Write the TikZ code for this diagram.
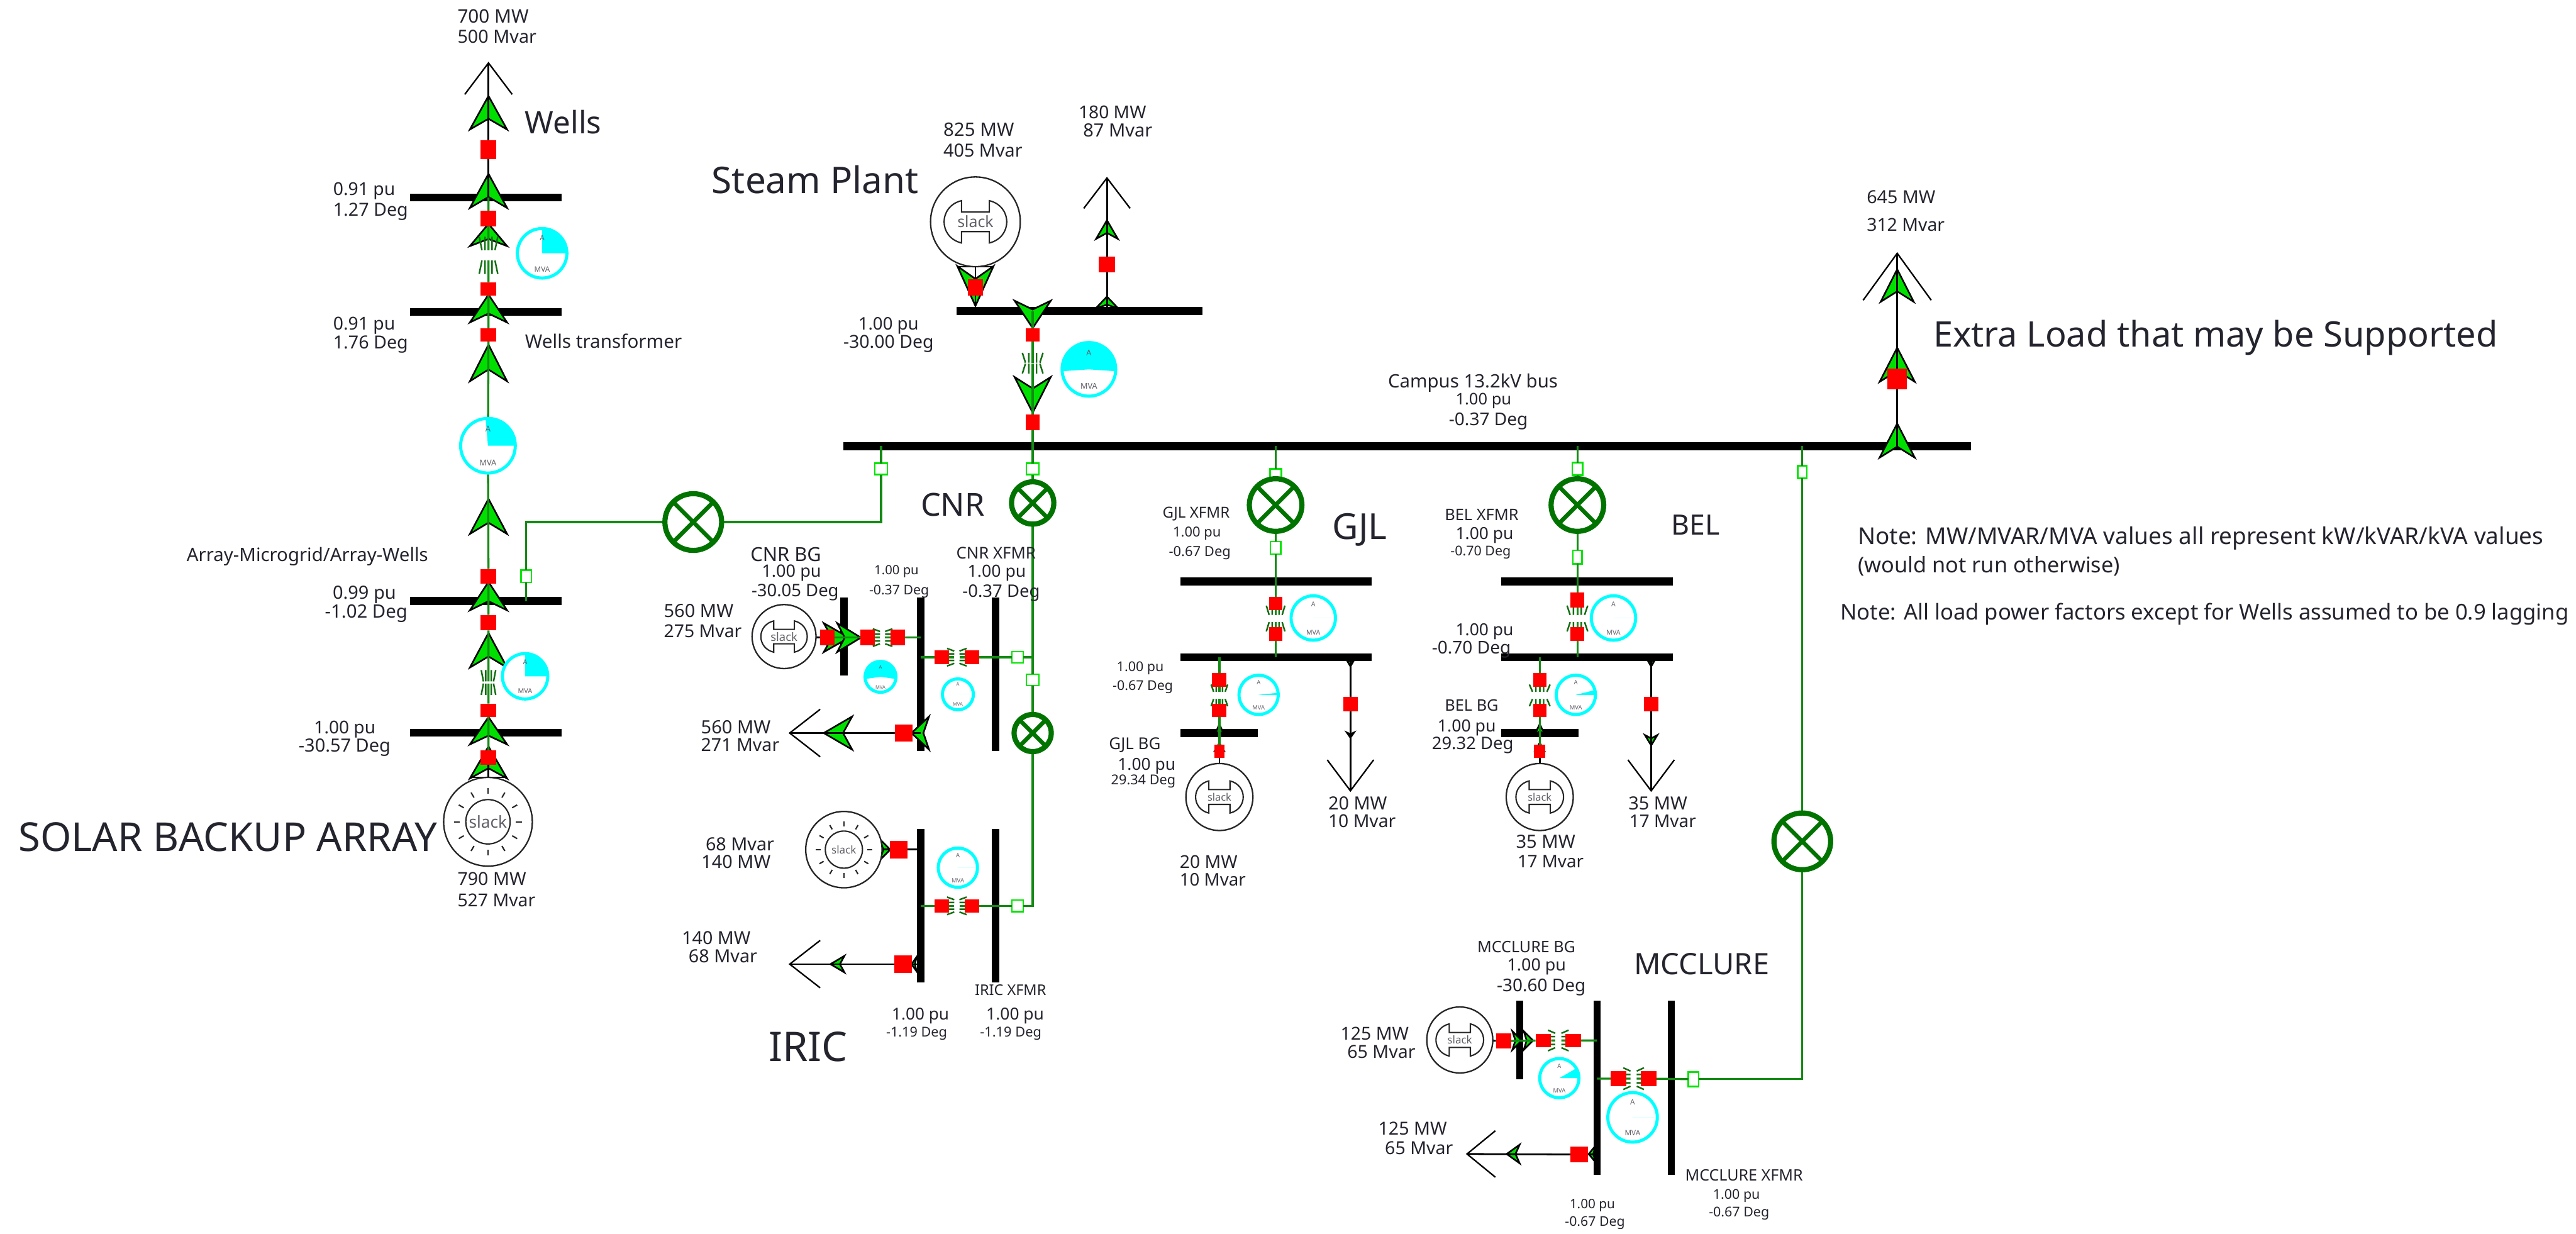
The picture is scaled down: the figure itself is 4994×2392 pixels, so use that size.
\documentclass[tikz,border=0pt]{standalone}
\usepackage{fontspec}
\usepackage{graphicx}
\setmainfont{Noto Sans}
\usetikzlibrary{backgrounds}
\pgfdeclarelayer{buslayer}
\pgfdeclarelayer{arrowlayer}
\pgfdeclarelayer{toplayer}
\pgfsetlayers{buslayer,arrowlayer,main,toplayer}
\definecolor{wiregreen}{HTML}{148A14}
\definecolor{xfgreen}{HTML}{007300}
\definecolor{flowgreen}{HTML}{00E000}
\definecolor{piecyan}{HTML}{00FFFF}
\definecolor{txt}{HTML}{24242E}
\definecolor{slackgray}{HTML}{606068}
\tikzset{
  lab/.style={anchor=west,inner sep=0pt,outer sep=0pt,text=txt},
  wire/.style={draw=wiregreen,line width=2pt},
  bwire/.style={draw=black,line width=1.7pt},
  busst/.style={rectangle,fill=black,inner sep=0pt,outer sep=0pt},
  brkst/.style={rectangle,fill=red,inner sep=0pt,outer sep=0pt},
  sqst/.style={rectangle,draw=green!90!black,fill=white,line width=1.5pt,inner sep=0pt,outer sep=0pt},
  flowst/.style={fill=flowgreen,draw=black,line width=1.6pt,line join=miter},
  coilst/.style={draw=wiregreen!80!black,line width=1.5pt},
  loadst/.style={draw=black,line width=1.4pt},
  xfst/.style={circle,draw=xfgreen,fill=white,line width=5pt,inner sep=0pt,outer sep=0pt},
  xfcross/.style={draw=xfgreen,line width=4pt},
  piest/.style={circle,draw=piecyan,fill=white,line width=3pt,inner sep=0pt,outer sep=0pt},
  genst/.style={circle,draw=black!85,fill=white,line width=1.4pt,inner sep=0pt,outer sep=0pt},
  genin/.style={draw=black!85,line width=1.3pt},
  tinyt/.style={inner sep=0pt,outer sep=0pt,text=slackgray},
}
\newcommand\mylb[5]{\node[lab] (#1) at (#2,#4) {\resizebox{\dimexpr\number\numexpr#3-#2\relax pt/2\relax}{!}{\vphantom{A}\smash{#5}}};}
\newcommand\hbus[4]{\begin{pgfonlayer}{buslayer}\node[busst,minimum width={(#3-#2)*0.5pt},minimum height=7.5pt] (#1) at ({(#2+#3)/2},#4) {};\end{pgfonlayer}}
\newcommand\vbus[4]{\begin{pgfonlayer}{buslayer}\node[busst,minimum height={(#4-#3)*0.5pt},minimum width=7pt] (#1) at (#2,{(#3+#4)/2}) {};\end{pgfonlayer}}
\newcommand\mybrk[5]{\begin{pgfonlayer}{toplayer}\node[brkst,minimum width={#4*0.5pt},minimum height={#5*0.5pt}] (#1) at (#2,#3) {};\end{pgfonlayer}}
\newcommand\mysq[5]{\node[sqst,minimum width={#4*0.5pt},minimum height={#5*0.5pt}] (#1) at (#2,#3) {};}
\newcommand\myflow[5]{\begin{pgfonlayer}{arrowlayer}\filldraw[flowst,shift={(#1,#2)},rotate=#3] (0,0) -- (#5,#4) -- (0,.68*#4) -- (-#5,#4) -- cycle;\end{pgfonlayer}}
\newcommand\myload[6]{\begin{scope}[shift={(#2,#3)},rotate=#4]\coordinate (#1) at (0,0);\draw[loadst] (-#6,#5) -- (0,0) -- (#6,#5);\end{scope}}
\newcommand\mycoil[7]{\begin{scope}[shift={(#2,#3)},rotate=#4]
  \coordinate (#1-a) at (0,-#5/2);\coordinate (#1-b) at (0,#5/2);
  \draw[coilst] (-.38*#7,-#5/2) -- ++(0,-#6) (.38*#7,-#5/2) -- ++(0,-#6) (-.7*#7,-#5/2) -- (-#7,-#5/2-#6) (.7*#7,-#5/2) -- (#7,-#5/2-#6)
    (-.38*#7,#5/2) -- ++(0,#6) (.38*#7,#5/2) -- ++(0,#6) (-.7*#7,#5/2) -- (-#7,#5/2+#6) (.7*#7,#5/2) -- (#7,#5/2+#6);
\end{scope}}
\newcommand\myxf[4]{\begin{pgfonlayer}{toplayer}\node[xfst,minimum size={(2*#4-10)*0.5pt}] (#1) at (#2,#3) {};
  \draw[xfcross] (#1.45) -- (#1.225) (#1.135) -- (#1.-45);\end{pgfonlayer}}
\newcommand\mypie[6]{\begin{pgfonlayer}{toplayer}\node[piest,minimum size={(2*#4-6)*0.5pt}] (#1) at (#2,#3) {};
  \fill[piecyan] (#1.center) -- +(#5:#4-2) arc[start angle=#5,end angle=#6,radius=#4-2] -- cycle;
  \pgfmathsetmacro\piefs{#4*0.5*0.28}
  \node[tinyt,font=\fontsize{\piefs pt}{\piefs pt}\selectfont] (#1-a) at (#2,#3-.58*#4) {A};
  \node[tinyt,font=\fontsize{\piefs pt}{\piefs pt}\selectfont] (#1-m) at (#2,#3+.6*#4) {MVA};
\end{pgfonlayer}}
\newcommand\mygen[6]{\begin{pgfonlayer}{toplayer}\node[genst,minimum size={#4}] (#1) at (#2,#3) {};
  \begin{scope}[shift={(#2,#3)},scale=#5]
  \draw[genin] (-27,-41) .. controls (-72,-30) and (-72,30) .. (-27,41) -- (-27,19) -- (27,19) -- (27,41) .. controls (72,30) and (72,-30) .. (27,-41) -- (27,-19) -- (-27,-19) -- cycle;
  \end{scope}
  \node[tinyt] (#1-t) at (#2,#3) {\resizebox{#6pt}{!}{\vphantom{k}slack}};\end{pgfonlayer}}
\newcommand\mysolar[6]{\begin{pgfonlayer}{toplayer}\node[genst,minimum size={#4}] (#1) at (#2,#3) {};
  \begin{scope}[shift={(#2,#3)}]
  \draw[genin] (0,0) circle[radius=#5];
  \foreach \aa in {0,30,...,330} {\draw[genin] (\aa:1.26*#5) -- (\aa:1.52*#5);}
  \end{scope}
  \node[tinyt] (#1-t) at (#2,#3) {\resizebox{#6pt}{!}{\vphantom{k}slack}};\end{pgfonlayer}}
\begin{document}
\begin{tikzpicture}[x=0.5pt,y=-0.5pt]
\useasboundingbox (0,0) rectangle (4994,2392);
% ---------- buses
\hbus{wb1}{795}{1089}{383}
\hbus{wb2}{795}{1089}{605}
\hbus{wb3}{795}{1089}{1165}
\hbus{wb4}{795}{1089}{1420}
\hbus{stb}{1855}{2331}{603}
\hbus{cam}{1635}{3821}{865}
\vbus{cb1}{1636}{1158}{1309}
\vbus{cb2}{1785}{1158}{1456}
\vbus{cb3}{1930}{1158}{1456}
\vbus{ib2}{1785}{1607}{1905}
\vbus{ib3}{1930}{1607}{1905}
\hbus{gba}{2289}{2659}{1127}
\hbus{gbb}{2289}{2659}{1274}
\hbus{gbc}{2289}{2438}{1421}
\hbus{bba}{2910}{3243}{1127}
\hbus{bbb}{2910}{3243}{1274}
\hbus{bbc}{2910}{3060}{1421}
\vbus{mb1}{2946}{1940}{2092}
\vbus{mb2}{3096}{1940}{2278}
\vbus{mb3}{3240}{1940}{2278}
% ---------- breakers
\mybrk{wr1}{947}{290}{30}{36}
\mybrk{wr2}{947}{424}{30}{30}
\mybrk{wr3}{947}{560}{30}{26}
\mybrk{wr4}{947}{649}{30}{25}
\mybrk{wr5}{947}{1117}{30}{28}
\mybrk{wr6}{947}{1207}{30}{30}
\mybrk{wr7}{947}{1377}{30}{26}
\mybrk{wr8}{947}{1468}{30}{28}
\mybrk{sr1}{1891}{557}{30}{32}
\mybrk{sr2}{2002}{649}{26}{26}
\mybrk{sr3}{2002}{819}{26}{30}
\mybrk{lr1}{2146}{513}{32}{30}
\mybrk{xr1}{3678}{735}{38}{40}
\mybrk{cr1}{1604}{1236}{28}{30}
\mybrk{cr2}{1682}{1236}{28}{30}
\mybrk{cr3}{1740}{1236}{28}{30}
\mybrk{cr4}{1826}{1274}{28}{26}
\mybrk{cr5}{1884}{1274}{28}{26}
\mybrk{cr6}{1752}{1421}{34}{34}
\mybrk{ir1}{1742}{1647}{34}{34}
\mybrk{ir2}{1826}{1756}{28}{26}
\mybrk{ir3}{1884}{1756}{28}{26}
\mybrk{ir4}{1751}{1869}{34}{34}
\mybrk{gr1}{2473}{1170}{26}{26}
\mybrk{gr2}{2473}{1229}{26}{26}
\mybrk{gr3}{2364}{1318}{28}{26}
\mybrk{gr4}{2364}{1377}{28}{26}
\mybrk{gr5}{2364}{1456}{20}{26}
\mybrk{gr6}{2618}{1365}{28}{28}
\mybrk{br1}{3058}{1163}{26}{30}
\mybrk{br2}{3058}{1229}{26}{26}
\mybrk{br3}{2985}{1318}{26}{26}
\mybrk{br4}{2985}{1377}{26}{26}
\mybrk{br5}{2985}{1456}{22}{26}
\mybrk{br6}{3201}{1365}{28}{28}
\mybrk{mr1}{2915}{2018}{30}{30}
\mybrk{mr2}{2992}{2017}{30}{26}
\mybrk{mr3}{3050}{2017}{30}{26}
\mybrk{mr4}{3138}{2091}{30}{30}
\mybrk{mr5}{3196}{2091}{30}{30}
\mybrk{mr6}{3062}{2238}{34}{30}
% ---------- open squares
\mysq{wsq}{1020}{1117}{20}{24}
\mysq{csq1}{1708}{909}{24}{22}
\mysq{csq2}{2002}{909}{24}{22}
\mysq{csq3}{2002}{1318}{24}{22}
\mysq{csq4}{1973}{1274}{22}{22}
\mysq{isq}{1973}{1756}{22}{22}
\mysq{gsq1}{2473}{919}{22}{20}
\mysq{gsq2}{2473}{1062}{20}{24}
\mysq{bsq1}{3058}{909}{20}{24}
\mysq{bsq2}{3058}{1080}{18}{26}
\mysq{msq1}{3494}{915}{18}{24}
\mysq{msq2}{3283}{2092}{20}{28}
% ---------- transformer ovals, pies, generators
\myxf{xa}{1344}{1012}{60}
\myxf{xc}{2002}{975}{46}
\myxf{xi}{2002}{1421}{41}
\myxf{xg}{2473}{979}{56}
\myxf{xb}{3058}{979}{56}
\myxf{xm}{3494}{1631}{60}
\mypie{pw}{1051}{491}{51}{0}{-90}
\mypie{pb}{946}{864}{56}{0}{-95}
\mypie{pa}{1018}{1311}{47}{0}{-90}
\mypie{ps}{2111}{716}{55}{4}{-184}
\mypie{pc1}{1707}{1312}{33}{8}{-188}
\mypie{pc2}{1857}{1346}{33}{0}{0}
\mypie{pi}{1857}{1682}{41}{0}{0}
\mypie{pg1}{2546}{1198}{46}{0}{0}
\mypie{pg2}{2440}{1347}{41}{0}{-6}
\mypie{pb1}{3128}{1198}{46}{0}{0}
\mypie{pb2}{3055}{1347}{41}{0}{-14}
\mypie{pm1}{3023}{2090}{41}{0}{-30}
\mypie{pm2}{3165}{2166}{51}{0}{0}
\mygen{gs}{1891}{430}{87}{1}{35}
\mygen{gc}{1520}{1234}{62}{.74}{26}
\mygen{gg}{2364}{1545}{65}{.76}{23}
\mygen{gb}{2985}{1545}{65}{.76}{23}
\mygen{gm}{2830}{2016}{64}{.76}{24}
\mysolar{ga}{946}{1593}{86}{43}{37}
\mysolar{gi}{1636}{1647}{74}{36}{24}
% ---------- loads
\myload{lw}{947}{122}{0}{61}{46}
\myload{ls}{2146}{345}{0}{59}{45}
\myload{lx}{3678}{491}{0}{91}{66}
\myload{lc}{1531}{1421}{90}{59}{46}
\myload{li}{1531}{1869}{90}{59}{46}
\myload{lg}{2618}{1533}{180}{60}{45}
\myload{lb}{3201}{1533}{180}{60}{45}
\myload{lm}{2844}{2237}{90}{55}{45}
% ---------- coils
\mycoil{cw}{947}{495}{0}{20}{26}{18}
\mycoil{ca}{947}{1323}{0}{4}{22}{14}
\mycoil{cs}{2002}{704}{0}{2}{19}{20}
\mycoil{cc1}{1711}{1236}{90}{10}{14}{17}
\mycoil{cc2}{1855}{1274}{90}{10}{14}{17}
\mycoil{ci}{1855}{1756}{90}{10}{14}{17}
\mycoil{cg1}{2473}{1199}{0}{14}{18}{18}
\mycoil{cg2}{2364}{1348}{0}{14}{14}{16}
\mycoil{cb1}{3058}{1199}{0}{14}{18}{20}
\mycoil{cb2}{2985}{1348}{0}{14}{14}{20}
\mycoil{cm1}{3021}{2017}{90}{12}{14}{20}
\mycoil{cm2}{3167}{2091}{90}{12}{14}{21}
% ---------- connectors
\draw[bwire] (lw) -- (wr1) -- (wr1 |- wb1);
\draw[wire] (wr2 |- wb1) -- (wr2) -- (cw-a) (cw-b) -- (wr3) -- (wr3 |- wb2) -- (wr4) -- (pb) -- (wr5) -- (wr5 |- wb3) -- (wr6) -- (ca-a) (ca-b) -- (wr7) -- (wr7 |- wb4) -- (wr8);
\draw[bwire] (wr8) -- (ga);
\draw[bwire] ([xshift=-16pt]ga.north) -- ([xshift=16pt]ga.north);
\draw[wire] (wsq |- wb3) -- (wsq) |- (xa);
\draw[wire] (xa) -| (csq1) -- (csq1 |- cam);
\draw[bwire] (gs) -- (sr1) -- (sr1 |- stb);
\draw[bwire] ([xshift=-17pt]gs.south) -- ([xshift=17pt]gs.south);
\draw[bwire] (ls) -- (lr1) -- (lr1 |- stb);
\draw[wire] (sr2 |- stb) -- (sr2) -- (cs-a) (cs-b) -- (sr3) -- (sr3 |- cam) -- (csq2) -- (xc) -- (csq3) -- (xi) |- (isq);
\draw[bwire] (lx) -- (xr1) -- (xr1 |- cam);
\draw[wire] (csq3 |- csq4) -- (csq4) -- (cr5) -- (cc2-b) (cc2-a) -- (cr4) -- (cr4 -| cb2);
\draw[wire] (cr3 -| cb2) -- (cr3) -- (cc1-b) (cc1-a) -- (cr2) -- (cr1);
\draw[bwire] (cr1) -- (gc);
\draw[bwire] (lc) -- (cr6) -- (cr6 -| cb2);
\draw[bwire] (gi) -- (ir1) -- (ir1 -| ib2);
\draw[wire] (isq) -- (ir3) -- (ci-b) (ci-a) -- (ir2) -- (ir2 -| ib2);
\draw[bwire] (li) -- (ir4) -- (ir4 -| ib2);
\draw[wire] (gsq1 |- cam) -- (gsq1) -- (xg) -- (gsq2) -- (gsq2 |- gba) -- (gr1) -- (cg1-a) (cg1-b) -- (gr2) -- (gr2 |- gbb);
\draw[wire] (gr3 |- gbb) -- (gr3) -- (cg2-a) (cg2-b) -- (gr4) -- (gr4 |- gbc) -- (gr5);
\draw[bwire] (gr5) -- (gg);
\draw[bwire] (gr6 |- gbb) -- (gr6) -- (lg);
\draw[wire] (bsq1 |- cam) -- (bsq1) -- (xb) -- (bsq2) -- (bsq2 |- bba) -- (br1) -- (cb1-a) (cb1-b) -- (br2) -- (br2 |- bbb);
\draw[wire] (br3 |- bbb) -- (br3) -- (cb2-a) (cb2-b) -- (br4) -- (br4 |- bbc) -- (br5);
\draw[bwire] (br5) -- (gb);
\draw[bwire] (br6 |- bbb) -- (br6) -- (lb);
\draw[wire] (msq1 |- cam) -- (msq1) -- (xm) |- (msq2);
\draw[wire] (msq2) -- (mr5) -- (cm2-b) (cm2-a) -- (mr4) -- (mr4 -| mb2);
\draw[wire] (mr3 -| mb2) -- (mr3) -- (cm1-b) (cm1-a) -- (mr2) -- (mr1);
\draw[bwire] (mr1) -- (gm);
\draw[bwire] (lm) -- (mr6) -- (mr6 -| mb2);
% ---------- flow arrows
\myflow{947}{186}{0}{65}{36}
\myflow{947}{337}{0}{66}{36}
\myflow{947}{434}{0}{43}{36}
\myflow{947}{571}{0}{54}{36}
\myflow{947}{668}{0}{71}{36}
\myflow{947}{967}{0}{68}{36}
\myflow{947}{1128}{0}{55}{36}
\myflow{947}{1227}{0}{67}{36}
\myflow{947}{1390}{0}{53}{36}
\myflow{947}{1447}{0}{62}{36}
\myflow{1891}{593}{180}{77}{35}
\myflow{2002}{636}{180}{53}{35}
\myflow{2002}{800}{180}{69}{35}
\myflow{2146}{427}{0}{36}{21}
\myflow{2146}{575}{0}{23}{22}
\myflow{3678}{522}{0}{63}{32}
\myflow{3678}{674}{0}{66}{34}
\myflow{3678}{821}{0}{66}{34}
\myflow{1646}{1236}{-90}{49}{28}
\myflow{1669}{1236}{-90}{46}{28}
\myflow{1597}{1421}{90}{55}{32}
\myflow{1767}{1421}{90}{34}{32}
\myflow{1726}{1647}{-90}{20}{20}
\myflow{1610}{1869}{90}{27}{16}
\myflow{1767}{1869}{90}{10}{14}
\myflow{2972}{2017}{-90}{18}{18}
\myflow{2950}{2017}{-90}{18}{18}
\myflow{2921}{2237}{90}{25}{18}
\myflow{3080}{2237}{90}{13}{16}
\myflow{2364}{1404}{0}{20}{9}
\myflow{2364}{1440}{0}{14}{8}
\myflow{2618}{1292}{180}{14}{8}
\myflow{2618}{1430}{180}{10}{7}
\myflow{2985}{1404}{0}{20}{10}
\myflow{2985}{1440}{0}{14}{8}
\myflow{3201}{1292}{180}{14}{8}
\myflow{3201}{1445}{180}{20}{12}
% ---------- texts
\mylb{t01}{887}{1025}{31}{700 MW}
\mylb{t02}{887}{1040}{71}{500 Mvar}
\mylb{t03}{1018}{1166}{238}{Wells}
\mylb{t04}{646}{766}{366}{0.91 pu}
\mylb{t05}{646}{791}{406}{1.27 Deg}
\mylb{t06}{646}{766}{627}{0.91 pu}
\mylb{t07}{646}{791}{663}{1.76 Deg}
\mylb{t08}{1018}{1322}{662}{Wells transformer}
\mylb{t09}{362}{830}{1075}{Array-Microgrid/Array-Wells}
\mylb{t10}{645}{768}{1149}{0.99 pu}
\mylb{t11}{630}{790}{1185}{-1.02 Deg}
\mylb{t12}{609}{728}{1410}{1.00 pu}
\mylb{t13}{579}{757}{1445}{-30.57 Deg}
\mylb{t14}{36}{848}{1623}{SOLAR BACKUP ARRAY}
\mylb{t15}{887}{1020}{1704}{790 MW}
\mylb{t16}{887}{1038}{1745}{527 Mvar}
\mylb{t17}{1380}{1781}{350}{Steam Plant}
\mylb{t18}{1829}{1966}{251}{825 MW}
\mylb{t19}{1829}{1982}{292}{405 Mvar}
\mylb{t20}{2091}{2222}{218}{180 MW}
\mylb{t21}{2100}{2234}{253}{87 Mvar}
\mylb{t22}{1664}{1781}{628}{1.00 pu}
\mylb{t23}{1635}{1810}{663}{-30.00 Deg}
\mylb{t24}{2691}{3020}{739}{Campus 13.2kV bus}
\mylb{t25}{2822}{2930}{774}{1.00 pu}
\mylb{t26}{2809}{2962}{812}{-0.37 Deg}
\mylb{t27}{1785}{1909}{978}{CNR}
\mylb{t28}{1455}{1592}{1075}{CNR BG}
\mylb{t29}{1477}{1592}{1107}{1.00 pu}
\mylb{t30}{1457}{1626}{1145}{-30.05 Deg}
\mylb{t31}{1695}{1781}{1105}{1.00 pu}
\mylb{t32}{1685}{1801}{1144}{-0.37 Deg}
\mylb{t33}{1854}{2008}{1072}{CNR XFMR}
\mylb{t34}{1876}{1989}{1107}{1.00 pu}
\mylb{t35}{1866}{2016}{1146}{-0.37 Deg}
\mylb{t36}{1287}{1422}{1184}{560 MW}
\mylb{t37}{1287}{1438}{1223}{275 Mvar}
\mylb{t38}{1359}{1494}{1409}{560 MW}
\mylb{t39}{1359}{1511}{1444}{271 Mvar}
\mylb{t40}{1368}{1501}{1636}{68 Mvar}
\mylb{t41}{1360}{1494}{1670}{140 MW}
\mylb{t42}{1322}{1455}{1818}{140 MW}
\mylb{t43}{1335}{1468}{1854}{68 Mvar}
\mylb{t44}{1490}{1643}{2029}{IRIC}
\mylb{t45}{1890}{2028}{1919}{IRIC XFMR}
\mylb{t46}{1729}{1840}{1965}{1.00 pu}
\mylb{t47}{1718}{1836}{2000}{-1.19 Deg}
\mylb{t48}{1912}{2024}{1965}{1.00 pu}
\mylb{t49}{1900}{2019}{2000}{-1.19 Deg}
\mylb{t50}{2254}{2384}{994}{GJL XFMR}
\mylb{t51}{2274}{2367}{1031}{1.00 pu}
\mylb{t52}{2266}{2386}{1069}{-0.67 Deg}
\mylb{t53}{2583}{2689}{1020}{GJL}
\mylb{t54}{2165}{2256}{1292}{1.00 pu}
\mylb{t55}{2157}{2274}{1329}{-0.67 Deg}
\mylb{t56}{2150}{2250}{1441}{GJL BG}
\mylb{t57}{2167}{2279}{1481}{1.00 pu}
\mylb{t58}{2154}{2279}{1512}{29.34 Deg}
\mylb{t59}{2287}{2399}{1671}{20 MW}
\mylb{t60}{2287}{2415}{1705}{10 Mvar}
\mylb{t61}{2575}{2689}{1557}{20 MW}
\mylb{t62}{2575}{2706}{1592}{10 Mvar}
\mylb{t63}{2801}{2944}{998}{BEL XFMR}
\mylb{t64}{2822}{2934}{1034}{1.00 pu}
\mylb{t65}{2812}{2929}{1068}{-0.70 Deg}
\mylb{t66}{3240}{3334}{1018}{BEL}
\mylb{t67}{2822}{2934}{1220}{1.00 pu}
\mylb{t68}{2776}{2929}{1255}{-0.70 Deg}
\mylb{t69}{2801}{2905}{1367}{BEL BG}
\mylb{t70}{2787}{2900}{1407}{1.00 pu}
\mylb{t71}{2776}{2934}{1441}{29.32 Deg}
\mylb{t72}{2939}{3054}{1631}{35 MW}
\mylb{t73}{2942}{3070}{1670}{17 Mvar}
\mylb{t74}{3157}{3271}{1557}{35 MW}
\mylb{t75}{3159}{3288}{1592}{17 Mvar}
\mylb{t76}{2864}{3054}{1835}{MCCLURE BG}
\mylb{t77}{2922}{3036}{1870}{1.00 pu}
\mylb{t78}{2902}{3074}{1910}{-30.60 Deg}
\mylb{t79}{3168}{3430}{1869}{MCCLURE}
\mylb{t80}{2599}{2731}{2004}{125 MW}
\mylb{t81}{2612}{2744}{2039}{65 Mvar}
\mylb{t82}{2672}{2805}{2187}{125 MW}
\mylb{t83}{2685}{2817}{2225}{65 Mvar}
\mylb{t84}{3267}{3495}{2278}{MCCLURE XFMR}
\mylb{t85}{3321}{3412}{2315}{1.00 pu}
\mylb{t86}{3313}{3430}{2349}{-0.67 Deg}
\mylb{t87}{3043}{3131}{2334}{1.00 pu}
\mylb{t88}{3034}{3150}{2368}{-0.67 Deg}
\mylb{t89}{3619}{3752}{382}{645 MW}
\mylb{t90}{3619}{3770}{436}{312 Mvar}
\mylb{t91}{3748}{4842}{648}{Extra Load that may be Supported}
\mylb{t92}{3602}{4931}{1039}{Note: MW/MVAR/MVA values all represent kW/kVAR/kVA values}
\mylb{t93}{3602}{4110}{1095}{(would not run otherwise)}
\mylb{t94}{3568}{4980}{1187}{Note: All load power factors except for Wells assumed to be 0.9 lagging}
\end{tikzpicture}
\end{document}
